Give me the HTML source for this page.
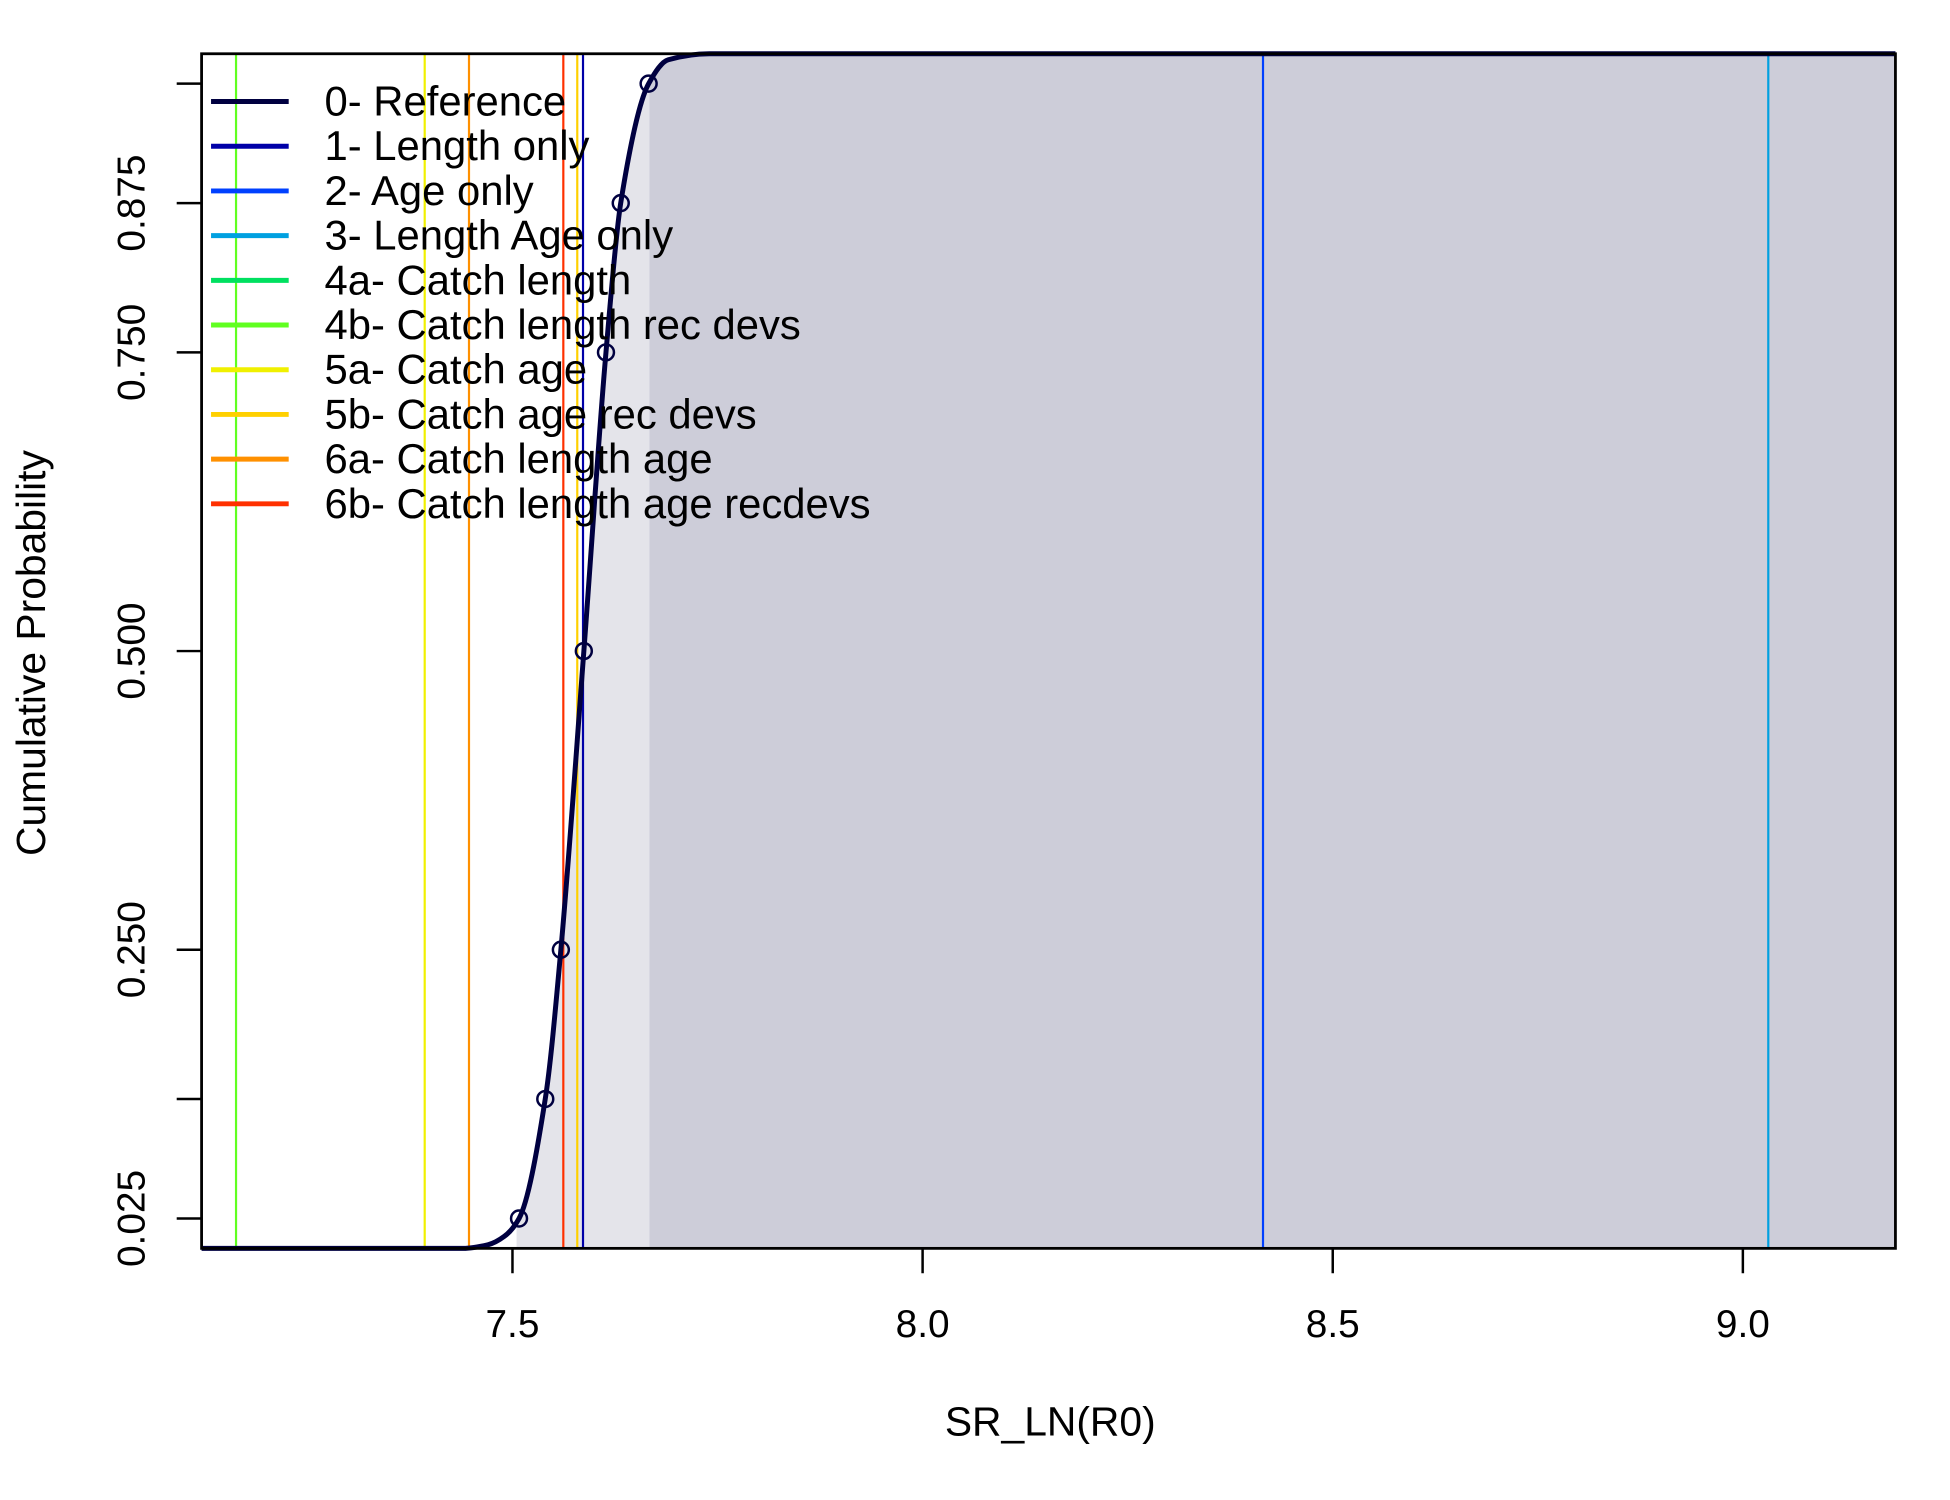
<!DOCTYPE html>
<html><head><meta charset="utf-8"><style>
html,body{margin:0;padding:0;background:#fff;}
svg{display:block;font-family:"Liberation Sans",Arial,sans-serif;}
</style></head><body>
<svg width="1950" height="1500" viewBox="0 0 1950 1500" xmlns="http://www.w3.org/2000/svg"><defs><clipPath id="c1"><rect id="c1r"/></clipPath><clipPath id="c2"><rect id="c2r"/></clipPath></defs><g id="chart" transform="scale(0.9955)"></g></svg>
<script>
// ---- data ----
const curveX = [7.121, 7.44, 7.47, 7.49, 7.508, 7.540, 7.559, 7.587, 7.614, 7.632, 7.666, 7.69, 7.74, 9.186];
const curveP = [0, 0, 0.003, 0.01, 0.025, 0.125, 0.25, 0.5, 0.75, 0.875, 0.975, 0.995, 1, 1];
const pointX = [7.508, 7.540, 7.559, 7.587, 7.614, 7.632, 7.666];
const pointP = [0.025, 0.125, 0.25, 0.5, 0.75, 0.875, 0.975];
const seriesNames = ["0- Reference","1- Length only","2- Age only","3- Length Age only","4a- Catch length","4b- Catch length rec devs","5a- Catch age","5b- Catch age rec devs","6a- Catch length age","6b- Catch length age recdevs"];
const seriesColors = ["#000040","#0000a8","#0040ff","#00a0e0","#00e060","#60ff20","#f0f000","#ffd000","#ff9000","#ff3000"];
const seriesValues = [null, 7.586, 8.415, 9.031, null, 7.163, 7.393, 7.579, 7.447, 7.562];
const xTicks = [7.5, 8.0, 8.5, 9.0];
const xTickLabels = ["7.5","8.0","8.5","9.0"];
const yTicks = [0.025, 0.125, 0.25, 0.5, 0.75, 0.875, 0.975];
const yTickLabels = ["0.025","","0.250","0.500","0.750","0.875",""];
const band1 = [7.505, 7.667];
const band2 = [7.667, 9.186];

// ---- scales ----
const L=202.5,R=1904,T=54,B=1254, X0=7.121, X1=9.186;
const sx=v=>L+(v-X0)/(X1-X0)*(R-L);
const sy=p=>B-p*(B-T);
const svg=document.getElementById('chart');
const NS='http://www.w3.org/2000/svg';
function mk(tag,attrs,parent){const e=document.createElementNS(NS,tag);for(const k in attrs)e.setAttribute(k,attrs[k]);(parent||svg).appendChild(e);return e;}

function monotonePath(xs,ys){
  const n=xs.length, dx=[], m=[], t=[];
  for(let i=0;i<n-1;i++){dx.push(xs[i+1]-xs[i]);m.push((ys[i+1]-ys[i])/dx[i]);}
  t[0]=m[0]; t[n-1]=m[n-2];
  for(let i=1;i<n-1;i++){ if(m[i-1]*m[i]<=0) t[i]=0; else { const w1=2*dx[i]+dx[i-1], w2=dx[i]+2*dx[i-1]; t[i]=(w1+w2)/(w1/m[i-1]+w2/m[i]); } }
  let d='M'+xs[0].toFixed(1)+','+ys[0].toFixed(1);
  for(let i=0;i<n-1;i++){
    const h=dx[i];
    d+='C'+(xs[i]+h/3).toFixed(1)+','+(ys[i]+t[i]*h/3).toFixed(1)+' '+(xs[i+1]-h/3).toFixed(1)+','+(ys[i+1]-t[i+1]*h/3).toFixed(1)+' '+xs[i+1].toFixed(1)+','+ys[i+1].toFixed(1);
  }
  return d;
}
const curveD=monotonePath(curveX.map(sx),curveP.map(sy));
const areaD=curveD+'L'+sx(X1)+','+B+'Z';

const c1=document.getElementById('c1r');
c1.setAttribute('x',sx(band1[0]));c1.setAttribute('y',T);c1.setAttribute('width',sx(band1[1])-sx(band1[0]));c1.setAttribute('height',B-T);
const c2=document.getElementById('c2r');
c2.setAttribute('x',sx(band2[0]));c2.setAttribute('y',T);c2.setAttribute('width',sx(band2[1])-sx(band2[0]));c2.setAttribute('height',B-T);

let b=mk('path',{d:areaD,fill:'#e4e4ea','clip-path':'url(#c1)'});


b=mk('path',{d:areaD,fill:'#cdcdd9','clip-path':'url(#c2)'});



seriesValues.forEach((v,i)=>{
  if(v===null)return;
  const ln=mk('line',{x1:sx(v),x2:sx(v),y1:T,y2:B,stroke:seriesColors[i],'stroke-width':2.2});
  
  
});

const cv=mk('path',{d:curveD,fill:'none',stroke:'#000040','stroke-width':5,'stroke-linejoin':'round'});


pointX.forEach((v,i)=>{
  const c=mk('circle',{cx:sx(v),cy:sy(pointP[i]),r:8,fill:'none',stroke:'#000040','stroke-width':2.5});
  
  
});

const bx=mk('rect',{x:L,y:T,width:R-L,height:B-T,fill:'none',stroke:'#000','stroke-width':2.8});



xTicks.forEach((v,i)=>{
  const t=mk('line',{x1:sx(v),x2:sx(v),y1:B,y2:B+25,stroke:'#000','stroke-width':2.5});
  
  
  const tx=mk('text',{x:sx(v),y:1343,'font-size':39,'text-anchor':'middle',fill:'#000'});
  tx.textContent=xTickLabels[i];
  
  
});
yTicks.forEach((v,i)=>{
  const t=mk('line',{x1:L-25,x2:L,y1:sy(v),y2:sy(v),stroke:'#000','stroke-width':2.5});
  
  
  if(yTickLabels[i]){
    const tx=mk('text',{x:0,y:0,'font-size':39,'text-anchor':'middle',fill:'#000',transform:'translate(145,'+sy(v)+') rotate(-90)'});
    tx.textContent=yTickLabels[i];
    
    
  }
});
let at=mk('text',{x:1055,y:1442,'font-size':41,'text-anchor':'middle',fill:'#000'});
at.textContent='SR_LN(R0)';


at=mk('text',{x:0,y:0,'font-size':41,'text-anchor':'middle',fill:'#000',transform:'translate(45,656) rotate(-90)'});
at.textContent='Cumulative Probability';



seriesNames.forEach((n,i)=>{
  const y=102+i*44.9;
  const ln=mk('line',{x1:212,x2:290,y1:y,y2:y,stroke:seriesColors[i],'stroke-width':5});
  
  
  const tx=mk('text',{x:326,y:y+14,'font-size':42,fill:'#000'});
  tx.textContent=n;
  
  
});
</script>
</body></html>
